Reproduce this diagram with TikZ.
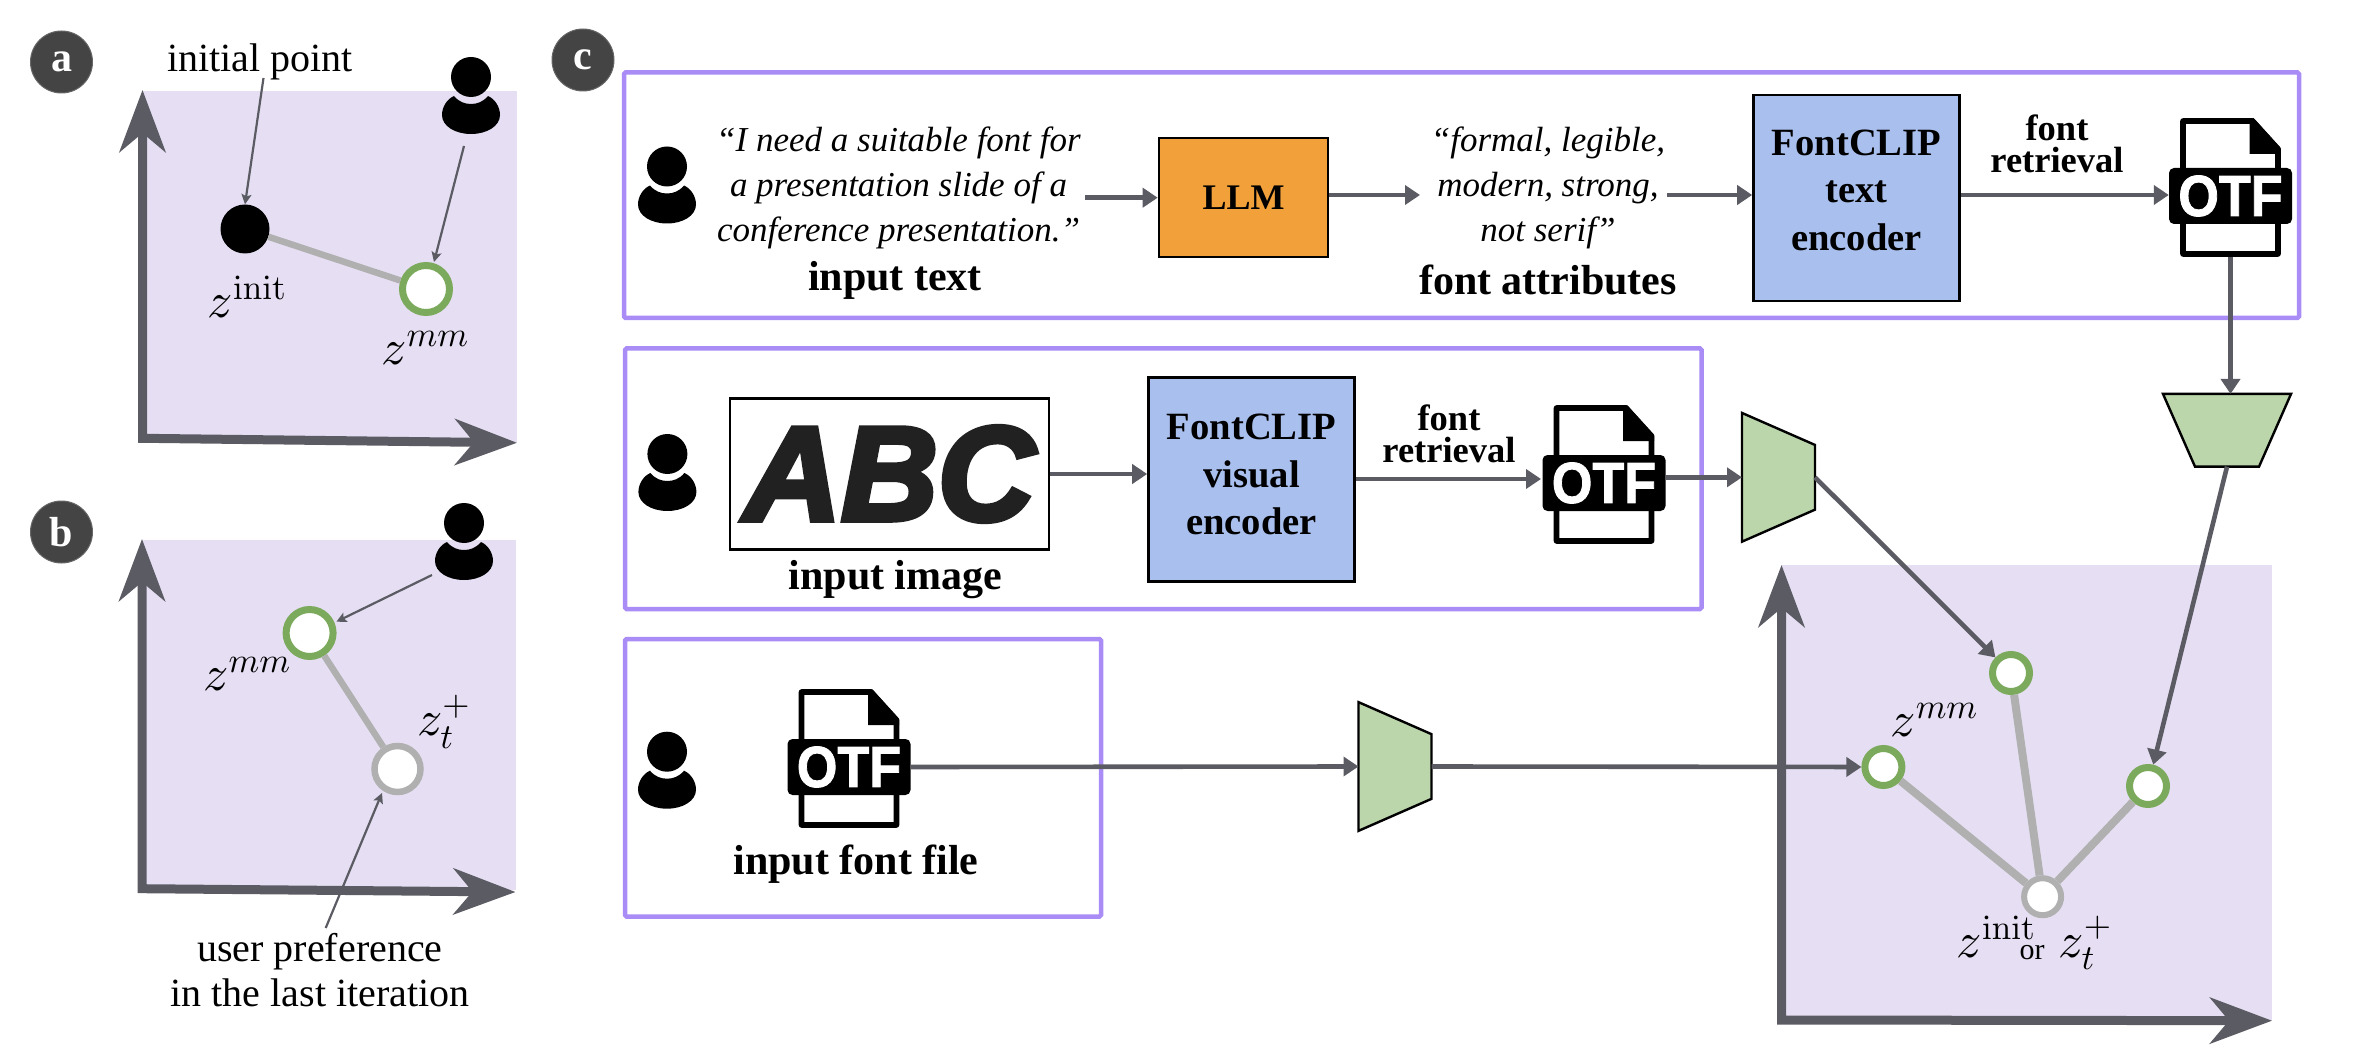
\documentclass[tikz,border=0pt]{standalone}
\usepackage[no-math]{fontspec}
\setmainfont{Liberation Serif}
\newfontfamily\otffont{Liberation Sans Bold}[FakeBold=1.5]
\newfontfamily\abcfont{Liberation Sans Bold Italic}[FakeBold=4]
\usetikzlibrary{arrows.meta}
\definecolor{lilac}{HTML}{E6DFF3}
\definecolor{axisc}{HTML}{5B5B63}
\definecolor{frameC}{HTML}{A98CF5}
\definecolor{greenR}{HTML}{7BAA5C}
\definecolor{grayR}{HTML}{B0B0B0}
\definecolor{trapC}{HTML}{BCD6AC}
\definecolor{llmC}{HTML}{F2A03A}
\definecolor{encC}{HTML}{A9C0EE}
\definecolor{badgeC}{HTML}{444444}
\newcommand{\fs}[2]{\fontsize{#1}{#2}\selectfont}
\newcommand{\ssc}[1]{\scalebox{.7}{$#1$}}
\newcommand{\encdown}[1]{\draw[encpoly] (#1.north west) -- (#1.north east) -- ([xshift=-32pt]#1.south east) -- ([xshift=32pt]#1.south west) -- cycle;}
\newcommand{\encright}[1]{\draw[encpoly] (#1.north west) -- ([yshift=-32pt]#1.north east) -- ([yshift=32pt]#1.south east) -- (#1.south west) -- cycle;}
\tikzset{
  x=1pt,y=-1pt,
  panelbg/.style={fill=lilac,draw=none},
  axisline/.style={draw=axisc,line width=9pt,line join=miter,
    {Stealth[length=62pt,width=46pt,inset=19pt]}-{Stealth[length=62pt,width=46pt,inset=19pt]}},
  thinarrow/.style={draw=axisc,line width=2.2pt,-{Stealth[length=10pt,width=10pt,inset=2pt]}},
  flow/.style={draw=axisc,line width=4.6pt,-{Triangle[length=15pt,width=19pt]}},
  linkline/.style={draw=grayR,line width=6.5pt},
  frameB/.style={draw=frameC,line width=4.5pt,rounded corners=1.5pt,minimum width=0},
  ptgreen/.style={circle,draw=greenR,fill=white,line width=#1,inner sep=0},
  ptgray/.style={circle,draw=grayR,fill=white,line width=#1,inner sep=0},
  badge/.style={circle,fill=badgeC,draw=black!60,line width=1pt,minimum size=62pt,inner sep=0,text=white,
    font=\fs{42}{42}\bfseries},
  lab/.style={inner sep=0,font=\fs{40}{46}},
  labB/.style={inner sep=0,align=center,font=\fs{42}{42}\bfseries},
  labR/.style={inner sep=0,align=center,font=\fs{36.5}{32}\bfseries},
  quoteT/.style={inner sep=0,align=center,font=\fs{35}{45}\itshape},
  boxT/.style={draw=black,line width=2.6pt,align=center,inner sep=0,font=\fs{38.6}{47.5}\bfseries},
  mathT/.style={inner sep=0,scale=5},
  encoder/.style={inner sep=0,outer sep=0,draw=none},
  encpoly/.style={draw=black,line width=2.4pt,fill=trapC,line join=miter},
  person/.pic={
    \node[circle,fill=black,minimum size=40pt,inner sep=0] (-h) at (0,0) {};
    \fill[black] (-17,19) .. controls (-24,22) and (-29,30) .. (-29,38)
      .. controls (-29,49) and (-16,57) .. (0,57)
      .. controls (16,57) and (29,49) .. (29,38)
      .. controls (29,30) and (24,22) .. (17,19)
      .. controls (12,25) and (6,27) .. (0,27)
      .. controls (-6,27) and (-12,25) .. (-17,19) -- cycle;
  },
  otficon/.pic={
    \draw[black,fill=white,line width=5.6pt,line join=round] (-47.5,3) -- (22,3) -- (47.5,31) -- (47.5,136) -- (-47.5,136) -- cycle;
    \fill[black] (19,2) -- (19,36) -- (50,36) -- (50,30) -- (23,0) -- cycle;
    \node[fill=black,text=white,rounded corners=5pt,minimum width=123pt,minimum height=56pt,inner sep=0,
      font=\fs{58}{58}\otffont] (-band) at (0,78) {\scalebox{.9}[1]{OTF}};
    \coordinate (-bot) at (0,139);
  },
}
\begin{document}
\begin{tikzpicture}
\useasboundingbox (0,0) rectangle (2356,1056);
% --- panel a ---
\node[badge] (ba) at (61.5,62) {a};
\fill[panelbg] (143,91) rectangle (517,442);
\coordinate (aT) at (142.5,90);
\coordinate (aO) at (142.5,438.3);
\coordinate (aR) at (517,442.8);
\draw[axisline] (aT) -- (aO) -- (aR);
\node[circle,fill=black,minimum size=49pt,inner sep=0] (ainit) at (245,229) {};
\node[ptgreen=7pt,minimum size=47pt] (amm) at (426,289) {};
\draw[linkline] (ainit) -- (amm);
\node[lab] (aip) at (260,62) {initial point};
\pic (pa) at (471,77) {person};
\coordinate (aipS) at (263.5,78);
\coordinate (paS) at (464,146);
\coordinate (ammN) at (434,262);
\draw[thinarrow] (aipS) -- (ainit.north);
\draw[thinarrow] (paS) -- (ammN);
\node[mathT] (zia) at (248,297) {$z^{\ssc{\mathrm{init}}}$};
\node[mathT] (zma) at (426,348) {$z^{\ssc{mm}}$};
% --- panel b ---
\node[badge] (bb) at (61.5,532) {b};
\fill[panelbg] (143,540) rectangle (516,890);
\coordinate (bT) at (142,539);
\coordinate (bO) at (142,888.7);
\coordinate (bR) at (515.5,892);
\draw[axisline] (bT) -- (bO) -- (bR);
\node[ptgreen=7pt,minimum size=47pt] (bmm) at (309.6,633) {};
\node[ptgray=6.5pt,minimum size=46pt] (bp) at (397.5,769) {};
\draw[linkline] (bmm) -- (bp);
\pic (pb) at (464,523) {person};
\coordinate (pbS) at (432,575);
\coordinate (bmmE) at (336.4,621.7);
\draw[thinarrow] (pbS) -- (bmmE);
\node[lab,align=center] (bup) at (320,970) {user preference\\[-1pt]in the last iteration};
\coordinate (bupN) at (325.7,928);
\coordinate (bpS) at (382,793);
\draw[thinarrow] (bupN) -- (bpS);
\node[mathT] (zmb) at (248,674) {$z^{\ssc{mm}}$};
\node[mathT] (ztb) at (444.6,721.7) {$z_{\ssc{t}}^{\ssc{+}}$};
% --- panel c frames ---
\node[badge] (bc) at (583,60) {c};
\draw[frameB] (624,72.5) rectangle (2299,318);
\draw[frameB] (625,348.5) rectangle (1701.5,609);
\draw[frameB] (625,639) rectangle (1101,916.5);
% --- first row ---
\pic (p1) at (667,166.5) {person};
\node[quoteT] (q1) at (898.5,188) {“I need a suitable font for\\a presentation slide of a\\conference presentation.”};
\node[labB] (t1) at (895,280) {input text};
\node[boxT,fill=llmC,minimum width=169pt,minimum height=119pt,font=\fs{36}{36}\bfseries] (llm) at (1243.5,197.5) {LLM};
\node[quoteT] (q2) at (1548,188) {“formal, legible,\\modern, strong,\\not serif”};
\node[labB] (t2) at (1548,280) {font attributes};
\node[boxT,fill=encC,minimum width=206pt,minimum height=206pt] (enc1) at (1856.5,198) {FontCLIP\\text\\encoder\\[-31.5pt]\mbox{}};
\node[labR] (r1) at (2057,144) {font\\retrieval};
\pic (o1) at (2230.5,118) {otficon};
\coordinate (q1E) at (1085,197.7);
\coordinate (q2E) at (1667,195);
\coordinate (attrW) at (1420,195);
\draw[flow] (q1E) -- (llm.west |- q1E);
\draw[flow] (llm.east |- q2E) -- (attrW);
\draw[flow] (q2E) -- (enc1.west |- q2E);
\draw[flow] (enc1.east |- q2E) -- (o1-band.west |- q2E);
\node[encoder,minimum width=128pt,minimum height=72.7pt] (ttop) at (2227,430.3) {};
\encdown{ttop}
\draw[flow] (o1-bot) -- (ttop.north -| o1-bot);
% --- second row ---
\pic (p2) at (667.4,454) {person};
\node[draw=black,line width=2.6pt,fill=white,minimum width=319pt,minimum height=151pt,inner sep=0,
  text=black!87,font=\fs{134}{134}\abcfont] (abc) at (889.5,474) {ABC};
\node[labB] (t3) at (895.5,580) {input image};
\node[boxT,fill=encC,minimum width=206pt,minimum height=204pt] (enc2) at (1251.5,479.5) {FontCLIP\\visual\\encoder\\[-37pt]\mbox{}};
\node[labR] (r2) at (1449,434) {font\\retrieval};
\pic (o2) at (1604,405) {otficon};
\coordinate (o2W) at (1541,479);
\draw[flow] (abc.east) -- (enc2.west |- abc.east);
\draw[flow] (enc2.east |- o2W) -- (o2W);
\node[encoder,minimum width=73pt,minimum height=128.7pt] (tm) at (1778.5,477.3) {};
\encright{tm}
\draw[flow] (o2-band.east |- tm.west) -- (tm.west);
% --- third row ---
\pic (p3) at (667,751.7) {person};
\pic (o3) at (849,689) {otficon};
\node[labB] (t4) at (856,864) {input font file};
\node[encoder,minimum width=73pt,minimum height=128.7pt] (tl) at (1395,766.5) {};
\encright{tl}
\draw[flow] (o3-band.east) -- (tl.west);
% --- panel c plot ---
\fill[panelbg] (1782,565) rectangle (2272,1020);
\coordinate (cT) at (1781.5,565);
\coordinate (cO) at (1781.5,1020);
\coordinate (cR) at (2272,1020.7);
\draw[axisline] (cT) -- (cO) -- (cR);
\node[ptgreen=7pt,minimum size=37pt] (g1) at (2011,673) {};
\node[ptgreen=7pt,minimum size=37pt] (g2) at (1883.4,767) {};
\node[ptgreen=7pt,minimum size=37pt] (g3) at (2148,786) {};
\node[ptgray=6pt,minimum size=37pt] (gp) at (2042.6,896.7) {};
\draw[linkline,line width=8pt] (g1) -- (gp);
\draw[linkline,line width=8pt] (g2) -- (gp);
\draw[linkline,line width=8pt] (g3) -- (gp);
\draw[flow] (tm.east) -- (g1);
\draw[flow] (tl.east) -- (g2);
\draw[flow] (ttop.south) -- (g3);
\node[mathT] (zmc) at (1935,720) {$z^{\ssc{mm}}$};
\node[mathT] (zic) at (1997,936.7) {$z^{\ssc{\mathrm{init}}}$};
\node[inner sep=0,font=\fs{30}{30}] (orc) at (2032,953) {or};
\node[mathT] (ztc) at (2086,943) {$z_{\ssc{t}}^{\ssc{+}}$};
\end{tikzpicture}
\end{document}
